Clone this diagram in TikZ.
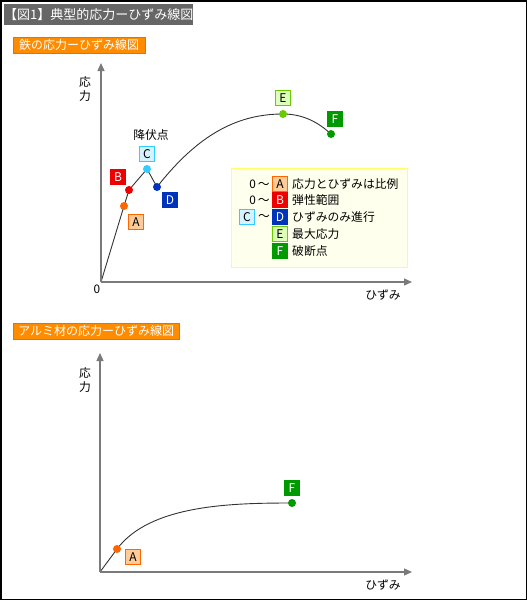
\documentclass[tikz,border=0pt]{standalone}
\usepackage{fontspec}
\setmainfont{Noto Sans CJK JP}
\usetikzlibrary{arrows.meta,backgrounds}

\definecolor{titlegray}{HTML}{666666}
\definecolor{tagorange}{HTML}{FF8C00}
\definecolor{tagedge}{HTML}{FF6600}
\definecolor{axisgray}{HTML}{7A7A7A}
\definecolor{ptA}{HTML}{FF6600}
\definecolor{boxA}{HTML}{FFCC99}
\definecolor{ptB}{HTML}{EE0000}
\definecolor{ptC}{HTML}{33CCFF}
\definecolor{boxC}{HTML}{D4F2FF}
\definecolor{ptD}{HTML}{0033BB}
\definecolor{ptE}{HTML}{66CC00}
\definecolor{boxE}{HTML}{DDFFBB}
\definecolor{ptF}{HTML}{009900}
\definecolor{legfill}{HTML}{FFFFEE}
\definecolor{legline}{HTML}{FFFF66}

\tikzset{
  dot/.style={circle, inner sep=0pt, minimum size=8pt},
  tag/.style={draw, minimum width=15pt, minimum height=15pt, inner sep=0pt, line width=1pt, font=\fontsize{12}{12}\selectfont},
  jp/.style={font=\fontsize{11.8}{13.5}\selectfont},
  heading/.style={fill=tagorange, draw=tagedge, text=white, anchor=north west, inner sep=0pt, minimum height=16pt, font=\fontsize{12}{12}\selectfont}
}

\begin{document}
\begin{tikzpicture}[x=1pt, y=-1pt, >={Triangle[length=8pt,width=7pt]}]
  \useasboundingbox (0,0) rectangle (527,600);
  \draw[line width=1.5pt] (0.75,0.75) rectangle (526.25,599.25);

  % Headings
  \node[fill=titlegray, text=white, anchor=north west, inner sep=0pt, minimum width=188pt, minimum height=21pt,
        font=\fontsize{13}{13}\selectfont] (title) at (4,4) {【図1】典型的応力ーひずみ線図};
  \node[heading, minimum width=132pt] (steel) at (13,37) {鉄の応力ーひずみ線図};
  \node[heading, minimum width=166pt] (alu) at (13,323) {アルミ材の応力ーひずみ線図};

  % Steel graph
  \coordinate (O1) at (101,282);
  \coordinate (Y1) at (101,63);
  \coordinate (X1) at (412,282);
  \draw[->, axisgray, line width=1.3pt] (O1) -- (Y1);
  \draw[->, axisgray, line width=1.3pt] (O1) -- (X1);
  \node[jp, align=center, inner sep=0pt] (stress1) at (85,89) {応\\力};
  \node[jp] (strain1) at (383,295) {ひずみ};
  \node[jp] (zero1) at (97,289) {0};

  \node[dot, fill=ptA] (A) at (124,206) {};
  \node[dot, fill=ptB] (B) at (129,190) {};
  \node[dot, fill=ptC] (C) at (147,169) {};
  \node[dot, fill=ptD] (D) at (157,187) {};
  \node[dot, fill=ptE] (E) at (283,114) {};
  \node[dot, fill=ptF] (F) at (331,134) {};
  \begin{scope}[on background layer]
    \draw[black!80, line width=0.9pt] (O1) -- (A.center) -- (B.center) -- (C.center) -- (D.center)
      .. controls (200,132) and (240,114) .. (E.center) .. controls (305,114) and (320,124) .. (F.center);
  \end{scope}

  \node[tag, fill=boxA, draw=ptA] (tagA) at (136,222) {A};
  \node[tag, fill=ptB, draw=ptB, text=white] (tagB) at (118,177) {B};
  \node[tag, fill=boxC, draw=ptC] (tagC) at (147,154) {C};
  \node[tag, fill=ptD, draw=ptD, text=white] (tagD) at (170,200) {D};
  \node[tag, fill=boxE, draw=ptE] (tagE) at (283,98) {E};
  \node[tag, fill=ptF, draw=ptF, text=white] (tagF) at (335,119) {F};
  \node[jp] (yield) at (151,135) {降伏点};

  % Legend
  \node[draw=legline, fill=legfill, line width=1pt, anchor=north west, minimum width=176pt, minimum height=99pt] (legend) at (231,168) {};
  \node[jp, anchor=east, inner sep=0pt] (r1) at (270,184) {0\,〜};
  \node[jp, anchor=east, inner sep=0pt] (r2) at (270,200) {0\,〜};
  \node[jp, anchor=east, inner sep=0pt] (r3) at (270,217) {〜};
  \node[tag, fill=boxC, draw=ptC] (lc) at (247,217) {C};
  \node[tag, fill=boxA, draw=ptA] (la) at (280,184) {A};
  \node[tag, fill=ptB, draw=ptB, text=white] (lb) at (280,200) {B};
  \node[tag, fill=ptD, draw=ptD, text=white] (ld) at (280,217) {D};
  \node[tag, fill=boxE, draw=ptE] (le) at (280,234) {E};
  \node[tag, fill=ptF, draw=ptF, text=white] (lf) at (280,251) {F};
  \node[jp, anchor=west, inner sep=0pt] (ta) at (292,184) {応力とひずみは比例};
  \node[jp, anchor=west, inner sep=0pt] (tb) at (292,200) {弾性範囲};
  \node[jp, anchor=west, inner sep=0pt] (td) at (292,217) {ひずみのみ進行};
  \node[jp, anchor=west, inner sep=0pt] (te) at (292,234) {最大応力};
  \node[jp, anchor=west, inner sep=0pt] (tf) at (292,251) {破断点};

  % Aluminium graph
  \coordinate (O2) at (100,572);
  \coordinate (Y2) at (100,353);
  \coordinate (X2) at (412,572);
  \draw[->, axisgray, line width=1.3pt] (O2) -- (Y2);
  \draw[->, axisgray, line width=1.3pt] (O2) -- (X2);
  \node[jp, align=center, inner sep=0pt] (stress2) at (85,380) {応\\力};
  \node[jp] (strain2) at (383,585) {ひずみ};

  \node[dot, fill=ptA] (A2) at (117,549) {};
  \node[dot, fill=ptF] (F2) at (292,503) {};
  \begin{scope}[on background layer]
    \draw[black!80, line width=0.9pt] (O2) -- (A2.center) .. controls (150,505) and (230,503) .. (F2.center);
  \end{scope}
  \node[tag, fill=boxA, draw=ptA] (tagA2) at (133,557) {A};
  \node[tag, fill=ptF, draw=ptF, text=white] (tagF2) at (292,488) {F};
\end{tikzpicture}
\end{document}
